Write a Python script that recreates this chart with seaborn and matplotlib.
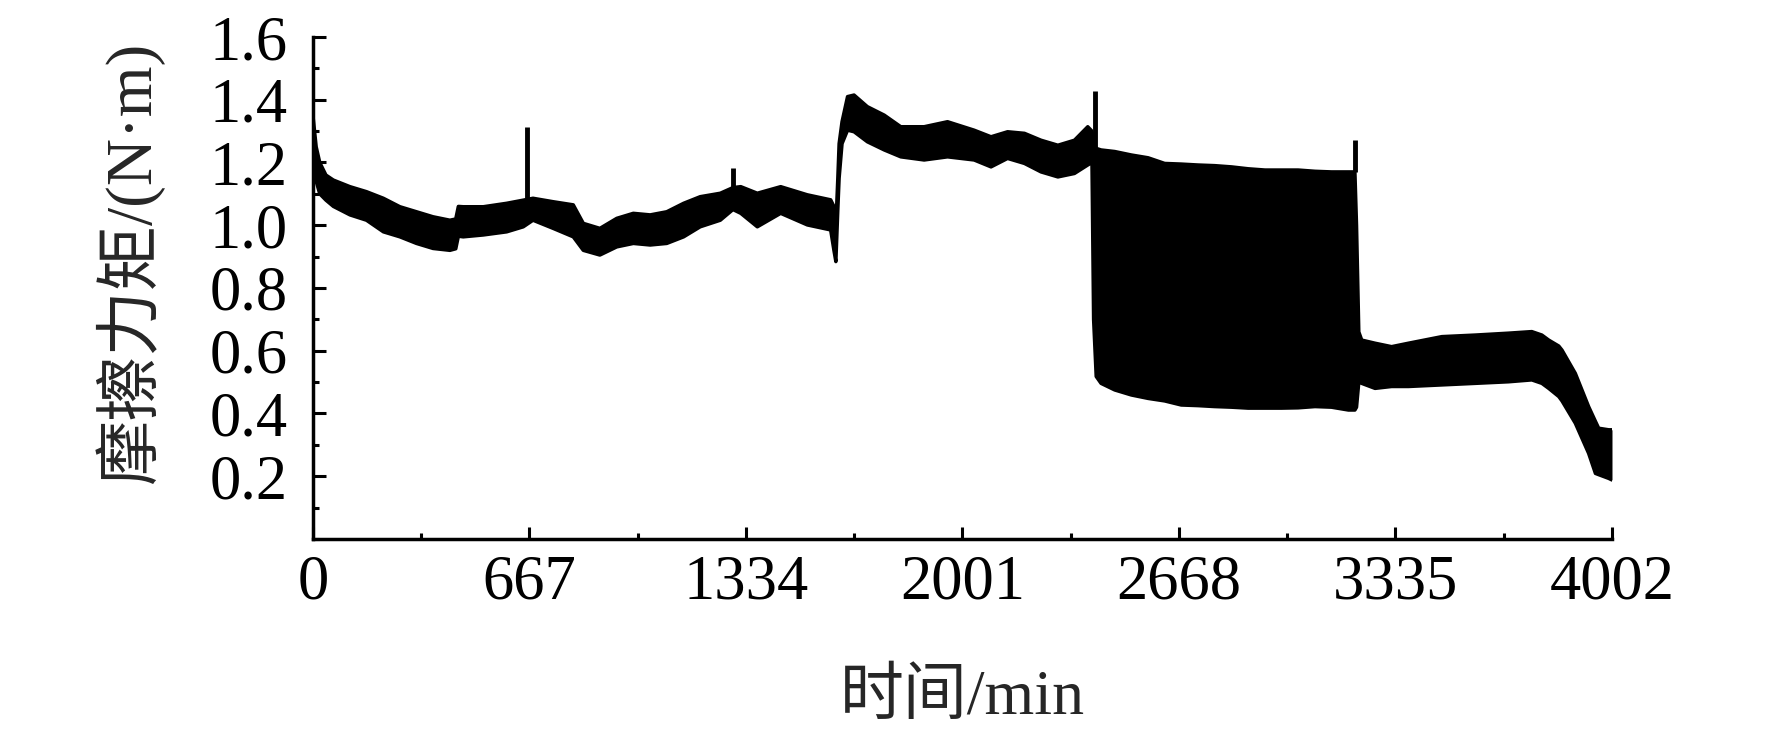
import numpy as np
import pandas as pd
import matplotlib
matplotlib.use('Agg')
import matplotlib.pyplot as plt
from matplotlib.ticker import MultipleLocator
import seaborn as sns

# envelope of the torque signal (time in min, torque in N·m)
time_min = [0, 10, 21, 40, 63, 114, 165, 217, 268, 319, 370, 422, 440, 448, 463, 525,
            597, 648, 678, 740, 802, 833, 884, 936, 987, 1039, 1090, 1142, 1193, 1255,
            1294, 1318, 1369, 1441, 1523, 1595, 1605, 1611, 1617, 1621, 1630, 1647, 1667,
            1708, 1760, 1811, 1883, 1955, 2037, 2089, 2140, 2192, 2243, 2295, 2346, 2387,
            2400, 2405, 2413, 2428, 2470, 2521, 2573, 2624, 2675, 2727, 2778, 2830, 2881,
            2933, 2984, 3035, 3087, 3138, 3190, 3210, 3215, 3222, 3231, 3272, 3323, 3375,
            3478, 3581, 3683, 3755, 3786, 3807, 3838, 3848, 3889, 3930, 3951, 3961, 3992,
            4002]
torque_upper = [1.35, 1.25, 1.20, 1.16, 1.144, 1.123, 1.107, 1.086, 1.059, 1.043, 1.027,
                1.016, 1.02, 1.06, 1.059, 1.059, 1.070, 1.080, 1.086, 1.075, 1.065, 1.006,
                0.990, 1.022, 1.038, 1.033, 1.043, 1.070, 1.091, 1.102, 1.12, 1.123, 1.102,
                1.123, 1.097, 1.081, 1.06, 1.00, 1.15, 1.26, 1.33, 1.410, 1.415, 1.378,
                1.351, 1.314, 1.314, 1.330, 1.303, 1.282, 1.298, 1.293, 1.271, 1.255, 1.271,
                1.314, 1.30, 1.26, 1.245, 1.240, 1.235, 1.224, 1.215, 1.197, 1.195, 1.192,
                1.190, 1.186, 1.180, 1.176, 1.176, 1.176, 1.172, 1.170, 1.170, 1.170, 1.0,
                0.66, 0.634, 0.624, 0.613, 0.624, 0.645, 0.650, 0.656, 0.661, 0.650, 0.634,
                0.615, 0.602, 0.528, 0.422, 0.375, 0.353, 0.348, 0.348]
torque_lower = [1.22, 1.14, 1.10, 1.08, 1.06, 1.033, 1.016, 0.979, 0.963, 0.942, 0.926,
                0.920, 0.925, 0.965, 0.963, 0.969, 0.979, 0.995, 1.016, 0.990, 0.963, 0.920,
                0.905, 0.931, 0.942, 0.937, 0.942, 0.963, 0.995, 1.016, 1.05, 1.038, 0.995,
                1.038, 1.001, 0.985, 0.92, 0.884, 1.05, 1.15, 1.26, 1.303, 1.298, 1.266,
                1.240, 1.218, 1.208, 1.218, 1.208, 1.186, 1.213, 1.197, 1.170, 1.154, 1.165,
                1.192, 1.20, 0.70, 0.518, 0.496, 0.475, 0.459, 0.448, 0.440, 0.427, 0.425,
                0.422, 0.420, 0.417, 0.417, 0.417, 0.418, 0.422, 0.420, 0.411, 0.411, 0.42,
                0.50, 0.496, 0.480, 0.486, 0.486, 0.491, 0.496, 0.501, 0.507, 0.496, 0.480,
                0.454, 0.440, 0.369, 0.273, 0.209, 0.205, 0.193, 0.188]

# short spikes in the signal
spike_time = [660, 1294, 2410, 3210]
spike_base = [1.08, 1.10, 1.25, 1.17]
spike_peak = [1.312, 1.181, 1.429, 1.272]

x_ticks = [0, 667, 1334, 2001, 2668, 3335, 4002]
y_ticks = [0.2, 0.4, 0.6, 0.8, 1.0, 1.2, 1.4, 1.6]

df = pd.DataFrame({'t': time_min, 'up': torque_upper, 'lo': torque_lower})

sns.set_style('ticks')
plt.rcParams['font.family'] = ['Liberation Serif', 'Noto Sans CJK SC']

fig = plt.figure(figsize=(17.72, 7.43), dpi=100)
ax = fig.add_axes([0.1766, 0.2746, 0.7331, 0.6756])

sns.lineplot(data=df, x='t', y='up', color='black', linewidth=2.5, ax=ax)
sns.lineplot(data=df, x='t', y='lo', color='black', linewidth=2.5, ax=ax)
ax.fill_between(df['t'], df['lo'], df['up'], color='black', linewidth=0)
ax.vlines(spike_time, spike_base, spike_peak, color='black', linewidth=3.5)

ax.set_xlim(0, 4002)
ax.set_ylim(0, 1.6)
ax.set_xticks(x_ticks)
ax.set_xticklabels([str(v) for v in x_ticks])
ax.set_yticks(y_ticks)
ax.set_yticklabels([f'{v:.1f}' for v in y_ticks])
ax.xaxis.set_minor_locator(MultipleLocator(333.5))
ax.yaxis.set_minor_locator(MultipleLocator(0.1))

ax.tick_params(which='both', direction='in', width=2.2, colors='black')
ax.tick_params(which='major', length=9, labelsize=45)
ax.tick_params(which='minor', length=4.5)
ax.tick_params(axis='x', which='major', pad=11)
ax.tick_params(axis='y', which='major', pad=18)

for side in ['top', 'right']:
    ax.spines[side].set_visible(False)
for side in ['left', 'bottom']:
    ax.spines[side].set_linewidth(2.5)
    ax.spines[side].set_color('black')

ax.set_xlabel('时间/min', fontsize=46)
ax.set_ylabel('摩擦力矩/(N·m)', fontsize=47)
ax.xaxis.set_label_coords(0.5, -0.26)
ax.yaxis.set_label_coords(-0.115, 0.55)

fig.savefig('out.png', dpi=100, facecolor='white')
